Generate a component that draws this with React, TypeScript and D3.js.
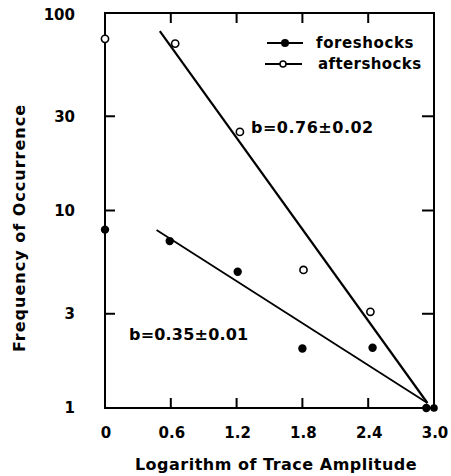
import React from "react";
import * as d3 from "d3";

const WIDTH = 451;
const HEIGHT = 476;
const FRAME = { left: 105, right: 434, top: 13, bottom: 408 };
const FONT = "'DejaVu Sans', sans-serif";

// tick values / labels
const xTicks = [0, 0.6, 1.2, 1.8, 2.4, 3.0];
const xTickLabels = ["0", "0.6", "1.2", "1.8", "2.4", "3.0"];
const yTicks = [1, 3, 10, 30, 100];
const yTickLabels = ["1", "3", "10", "30", "100"];

// observed counts
const foreX = [0, 0.59, 1.21, 1.8, 2.44, 2.93];
const foreY = [8.0, 7.0, 4.9, 2.0, 2.02, 1];
const afterX = [0, 0.64, 1.23, 1.81, 2.42, 3.0];
const afterY = [74, 70, 25, 5.0, 3.07, 1];

// fitted lines (endpoints)
const afterFitX = [0.5, 2.94];
const afterFitY = [81, 1.06];
const foreFitX = [0.47, 2.94];
const foreFitY = [7.96, 1.06];

const App = () => {
  const x = d3.scaleLinear().domain([0, 3]).range([FRAME.left, FRAME.right]);
  const y = d3.scaleLog().domain([1, 100]).range([FRAME.bottom, FRAME.top]);

  const line = d3
    .line<[number, number]>()
    .x((d) => x(d[0]))
    .y((d) => y(d[1]));

  const afterFit = afterFitX.map((v, i) => [v, afterFitY[i]] as [number, number]);
  const foreFit = foreFitX.map((v, i) => [v, foreFitY[i]] as [number, number]);

  const TICK = 10;

  return (
    <svg
      width={WIDTH}
      height={HEIGHT}
      style={{ position: "absolute", left: 0, top: 0, background: "#fff" }}
      fontFamily={FONT}
      fontWeight="bold"
    >
      {/* frame */}
      <rect
        x={FRAME.left}
        y={FRAME.top}
        width={FRAME.right - FRAME.left}
        height={FRAME.bottom - FRAME.top}
        fill="none"
        stroke="#000"
        strokeWidth={2}
      />

      {/* inward ticks */}
      {xTicks.slice(1, -1).map((t) => (
        <g key={`xt${t}`}>
          <line x1={x(t)} x2={x(t)} y1={FRAME.bottom} y2={FRAME.bottom - TICK} stroke="#000" strokeWidth={2} />
          <line x1={x(t)} x2={x(t)} y1={FRAME.top} y2={FRAME.top + TICK} stroke="#000" strokeWidth={2} />
        </g>
      ))}
      {yTicks.slice(1, -1).map((t) => (
        <g key={`yt${t}`}>
          <line x1={FRAME.left} x2={FRAME.left + TICK} y1={y(t)} y2={y(t)} stroke="#000" strokeWidth={2} />
          <line x1={FRAME.right} x2={FRAME.right - TICK - 2} y1={y(t)} y2={y(t)} stroke="#000" strokeWidth={2} />
        </g>
      ))}

      {/* tick labels */}
      {xTicks.map((t, i) => (
        <text key={`xl${t}`} x={x(t) + 1} y={438} textAnchor="middle" fontSize={15}>
          {xTickLabels[i]}
        </text>
      ))}
      {yTicks.map((t, i) => (
        <text key={`yl${t}`} x={75} y={y(t) + (t === 100 ? 2 : 0)} dy="0.36em" textAnchor="end" fontSize={15}>
          {yTickLabels[i]}
        </text>
      ))}

      {/* axis titles */}
      <text x={276} y={470} textAnchor="middle" fontSize={16} letterSpacing={0.5}>
        Logarithm of Trace Amplitude
      </text>
      <text
        transform="translate(25,228) rotate(-90)"
        textAnchor="middle"
        fontSize={16}
        letterSpacing={1}
      >
        Frequency of Occurrence
      </text>

      {/* fitted lines */}
      <path d={line(afterFit) ?? ""} fill="none" stroke="#000" strokeWidth={2.2} />
      <path d={line(foreFit) ?? ""} fill="none" stroke="#000" strokeWidth={1.8} />

      {/* data points */}
      {afterX.map((v, i) => (
        <circle
          key={`a${i}`}
          cx={x(v)}
          cy={y(afterY[i])}
          r={i === afterX.length - 1 ? 3 : 3.6}
          fill={i === afterX.length - 1 ? "#000" : "#fff"}
          stroke="#000"
          strokeWidth={1.6}
        />
      ))}
      {foreX.map((v, i) => (
        <circle key={`f${i}`} cx={x(v)} cy={y(foreY[i])} r={4.2} fill="#000" />
      ))}

      {/* annotations */}
      <text x={251} y={133} fontSize={16} letterSpacing={0.5}>
        b=0.76±0.02
      </text>
      <text x={129} y={340} fontSize={16} letterSpacing={0.2}>
        b=0.35±0.01
      </text>

      {/* legend */}
      <line x1={267} x2={303} y1={43} y2={43} stroke="#000" strokeWidth={2} />
      <circle cx={285} cy={43} r={4} fill="#000" />
      <text x={316} y={48} fontSize={15} letterSpacing={0.6}>
        foreshocks
      </text>
      <line x1={265} x2={302} y1={64} y2={64} stroke="#000" strokeWidth={2} />
      <circle cx={283} cy={64} r={3} fill="#fff" stroke="#000" strokeWidth={1.5} />
      <text x={318} y={69} fontSize={15} letterSpacing={0.4}>
        aftershocks
      </text>
    </svg>
  );
};

export default App;
